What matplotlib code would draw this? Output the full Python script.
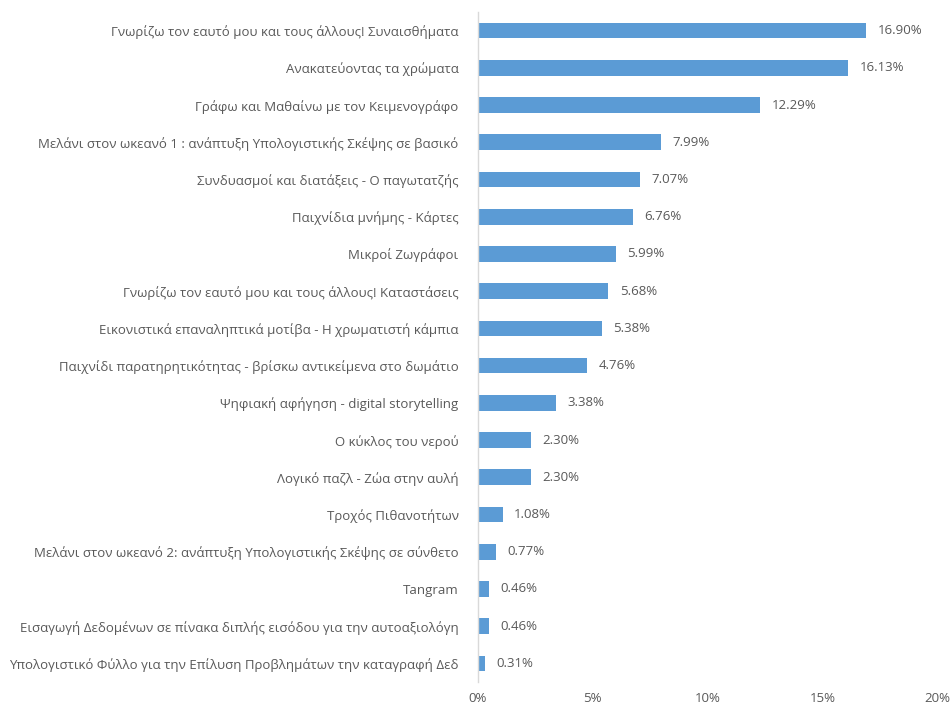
import matplotlib.pyplot as plt
import matplotlib.ticker as mticker
import numpy as np

plt.rcParams['font.family'] = ['Open Sans', 'DejaVu Sans']

LABEL_FONT_SIZE = 9.5
TEXT_COLOR = '#595959'
BAR_COLOR = '#5B9BD5'

categories = [
    "Γνωρίζω τον εαυτό μου και τους άλλους! Συναισθήματα",
    "Ανακατεύοντας τα χρώματα",
    "Γράφω και Μαθαίνω με τον Κειμενογράφο",
    "Μελάνι στον ωκεανό 1 : ανάπτυξη Υπολογιστικής Σκέψης σε βασικό",
    "Συνδυασμοί και διατάξεις - Ο παγωτατζής",
    "Παιχνίδια μνήμης - Κάρτες",
    "Μικροί Ζωγράφοι",
    "Γνωρίζω τον εαυτό μου και τους άλλους! Καταστάσεις",
    "Εικονιστικά επαναληπτικά μοτίβα - Η χρωματιστή κάμπια",
    "Παιχνίδι παρατηρητικότητας - βρίσκω αντικείμενα στο δωμάτιο",
    "Ψηφιακή αφήγηση - digital storytelling",
    "Ο κύκλος του νερού",
    "Λογικό παζλ - Ζώα στην αυλή",
    "Τροχός Πιθανοτήτων",
    "Μελάνι στον ωκεανό 2: ανάπτυξη Υπολογιστικής Σκέψης σε σύνθετο",
    "Tangram",
    "Εισαγωγή Δεδομένων σε πίνακα διπλής εισόδου για την αυτοαξιολόγη",
    "Υπολογιστικό Φύλλο για την Επίλυση Προβλημάτων την καταγραφή Δεδ",
]
values = [16.90, 16.13, 12.29, 7.99, 7.07, 6.76, 5.99, 5.68, 5.38, 4.76,
          3.38, 2.30, 2.30, 1.08, 0.77, 0.46, 0.46, 0.31]

dpi = 100
fig = plt.figure(figsize=(953 / dpi, 708 / dpi), dpi=dpi)
ax = fig.add_axes([0.5016, 0.0367, 0.4817, 0.9463])

y = np.arange(len(categories))
ax.barh(y, values, height=0.42, color=BAR_COLOR)
for yi, v in zip(y, values):
    ax.text(v + 0.5, yi, "%.2f%%" % v, va='center', ha='left',
            fontsize=LABEL_FONT_SIZE, color=TEXT_COLOR)

ax.set_ylim(len(categories) - 0.5, -0.5)
ax.set_xlim(0, 20)
ax.set_yticks(y)
ax.set_yticklabels(categories, fontsize=LABEL_FONT_SIZE, color=TEXT_COLOR)
ax.set_xticks([0, 5, 10, 15, 20])
ax.xaxis.set_major_formatter(mticker.FuncFormatter(lambda x, p: "%d%%" % x))
ax.tick_params(axis='x', length=0, pad=7, labelsize=LABEL_FONT_SIZE, labelcolor=TEXT_COLOR)
ax.tick_params(axis='y', length=0, pad=14)

for s in ['top', 'right', 'bottom']:
    ax.spines[s].set_visible(False)
ax.spines['left'].set_color('#D9D9D9')
ax.spines['left'].set_linewidth(1)

fig.savefig('out.png', dpi=dpi)
